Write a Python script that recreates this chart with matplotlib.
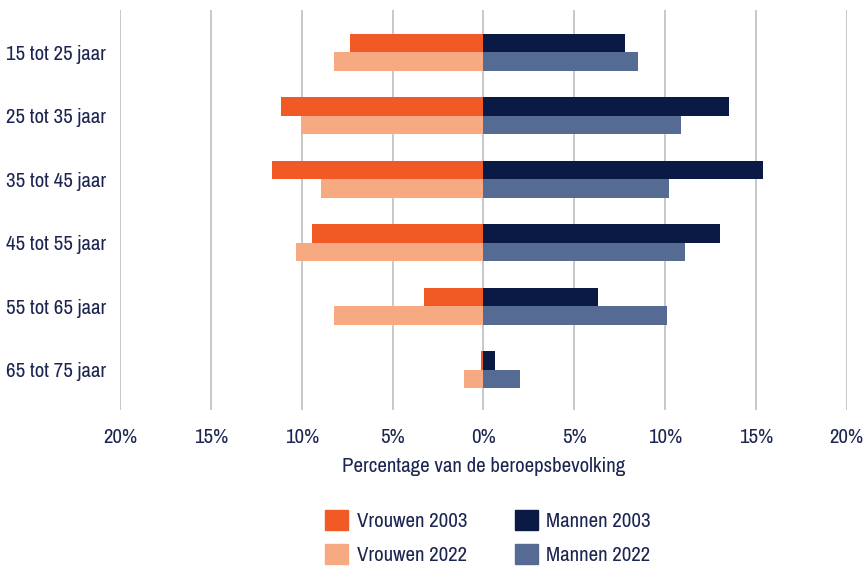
import numpy as np
import matplotlib.pyplot as plt
from matplotlib import font_manager
from matplotlib.patches import Patch
from matplotlib.ticker import FuncFormatter

# age groups, top to bottom
leeftijd = ['15 tot 25 jaar', '25 tot 35 jaar', '35 tot 45 jaar',
            '45 tot 55 jaar', '55 tot 65 jaar', '65 tot 75 jaar']

# percentage of labour force
vrouwen_2003 = [7.35, 11.15, 11.65, 9.45, 3.25, 0.16]
vrouwen_2022 = [8.25, 10.05, 8.95, 10.3, 8.25, 1.05]
mannen_2003 = [7.8, 13.5, 15.4, 13.0, 6.3, 0.65]
mannen_2022 = [8.5, 10.9, 10.2, 11.1, 10.1, 2.0]

ticks = [-20, -15, -10, -5, 0, 5, 10, 15, 20]

# prefer a condensed face if one is around
names = sorted({f.name for f in font_manager.fontManager.ttflist})
narrow = [n for n in names if 'Narrow' in n or 'Condensed' in n]
fam = narrow[0] if narrow else 'Roboto'
fs = 15 if narrow else 12.5
plt.rcParams['font.family'] = [fam, 'DejaVu Sans']

txt = '#1b2550'
c_v03 = '#f15a24'
c_v22 = '#f7aa82'
c_m03 = '#0b1a45'
c_m22 = '#566b93'

fig = plt.figure(figsize=(8.64, 5.67), dpi=100)
ax = fig.add_axes([0.139, 0.277, 0.841, 0.705])

y = np.arange(len(leeftijd))
h = 0.29
ax.barh(y - h / 2, [-v for v in vrouwen_2003], height=h, color=c_v03, zorder=3)
ax.barh(y + h / 2, [-v for v in vrouwen_2022], height=h, color=c_v22, zorder=3)
ax.barh(y - h / 2, mannen_2003, height=h, color=c_m03, zorder=3)
ax.barh(y + h / 2, mannen_2022, height=h, color=c_m22, zorder=3)

ax.set_xlim(-20, 20)
ax.set_ylim(5.63, -0.66)
ax.set_xticks(ticks)
ax.xaxis.set_major_formatter(FuncFormatter(lambda v, p: f'{abs(v):.0f}%'))
ax.set_yticks(y)
ax.set_yticklabels(leeftijd)
ax.grid(axis='x', color='#c4c4c4', linewidth=1.3, zorder=0)
for s in ax.spines.values():
    s.set_visible(False)
ax.tick_params(length=0, labelsize=fs, colors=txt, pad=10)
ax.tick_params(axis='x', pad=13)
ax.set_xlabel('Percentage van de beroepsbevolking', fontsize=fs, color=txt, labelpad=7)

handles = [Patch(color=c_v03, label='Vrouwen 2003'),
           Patch(color=c_v22, label='Vrouwen 2022'),
           Patch(color=c_m03, label='Mannen 2003'),
           Patch(color=c_m22, label='Mannen 2022')]
leg = fig.legend(handles=handles, ncol=2, loc='center', bbox_to_anchor=(0.565, 0.052),
                 frameon=False, fontsize=fs, handlelength=1.1, handleheight=1.1,
                 columnspacing=2.3, labelspacing=0.65, handletextpad=0.4)
for t in leg.get_texts():
    t.set_color(txt)

plt.savefig('out.png', dpi=100)
